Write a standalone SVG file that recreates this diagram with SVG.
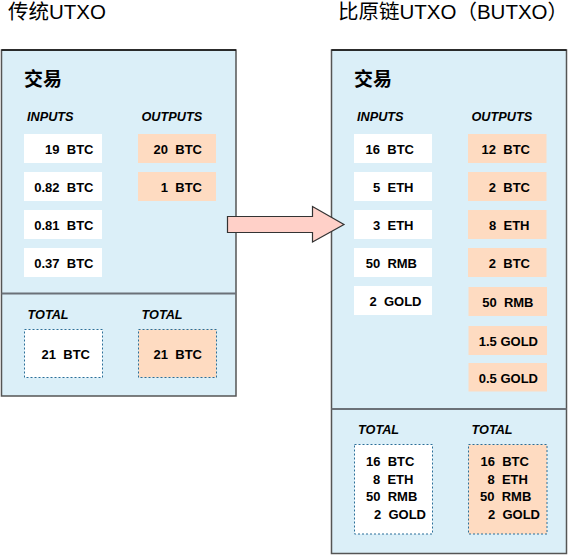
<svg xmlns="http://www.w3.org/2000/svg" width="581" height="555" viewBox="0 0 581 555">
<style>
.title{font-family:"Liberation Sans","Noto Sans CJK SC",sans-serif;font-size:20.5px;fill:#000}
.head{font-family:"Noto Sans CJK SC","Liberation Sans",sans-serif;font-size:19px;font-weight:bold;fill:#000}
.lab{font-family:"Liberation Sans",sans-serif;font-size:12.7px;font-weight:bold;font-style:italic;fill:#000}
.t{font-family:"Liberation Sans",sans-serif;font-size:13px;font-weight:bold;fill:#000;white-space:pre}
.panel{fill:#dbeff8;stroke:#555;stroke-width:1.5}
.topline{stroke:#111;stroke-width:1.5}
.div{stroke:#6b7178;stroke-width:2}
.in{fill:#ffffff}
.out{fill:#fedbc1}
.tot{stroke:#2a6f99;stroke-width:1;stroke-dasharray:2 2}
</style>
<text class="title" x="8" y="19">传统UTXO</text>
<text class="title" x="338" y="19">比原链UTXO（BUTXO）</text>

<g id="left-panel">
<rect class="panel" x="1.5" y="50" width="234.5" height="346"/>
<line class="topline" x1="1.5" y1="50" x2="236" y2="50"/>
<line class="div" x1="1.5" y1="293.5" x2="236" y2="293.5"/>
<text class="head" x="24" y="86">交易</text>
<text class="lab" x="27" y="121">INPUTS</text>
<text class="lab" x="141.5" y="121">OUTPUTS</text>
<text class="lab" x="27.5" y="319">TOTAL</text>
<text class="lab" x="141.5" y="319">TOTAL</text>
</g>
<g id="left-in-1"><rect class="in" x="24" y="134" width="78" height="29"/><text class="t" x="93.5" y="154" text-anchor="end" xml:space="preserve">19  BTC</text></g>
<g id="left-in-2"><rect class="in" x="24" y="172" width="78" height="29"/><text class="t" x="93.5" y="192" text-anchor="end" xml:space="preserve">0.82  BTC</text></g>
<g id="left-in-3"><rect class="in" x="24" y="210" width="78" height="29"/><text class="t" x="93.5" y="230" text-anchor="end" xml:space="preserve">0.81  BTC</text></g>
<g id="left-in-4"><rect class="in" x="24" y="248" width="78" height="29"/><text class="t" x="93.5" y="268" text-anchor="end" xml:space="preserve">0.37  BTC</text></g>
<g id="left-out-1"><rect class="out" x="138" y="134" width="78" height="29"/><text class="t" x="202" y="154" text-anchor="end" xml:space="preserve">20  BTC</text></g>
<g id="left-out-2"><rect class="out" x="138" y="172" width="78" height="29"/><text class="t" x="202" y="192" text-anchor="end" xml:space="preserve">1  BTC</text></g>
<g id="left-total-in"><rect class="in tot" x="24.5" y="329.5" width="78" height="48"/><text class="t" x="90" y="359" text-anchor="end" xml:space="preserve">21  BTC</text></g>
<g id="left-total-out"><rect class="out tot" x="138.5" y="329.5" width="78" height="48"/><text class="t" x="202" y="359" text-anchor="end" xml:space="preserve">21  BTC</text></g>

<g id="right-panel">
<rect class="panel" x="331.5" y="50" width="235" height="503.5"/>
<line class="topline" x1="331.5" y1="50" x2="566.5" y2="50"/>
<line class="div" x1="331.5" y1="409" x2="566.5" y2="409"/>
<text class="head" x="354" y="86">交易</text>
<text class="lab" x="357" y="121">INPUTS</text>
<text class="lab" x="471.5" y="121">OUTPUTS</text>
<text class="lab" x="358" y="433.5">TOTAL</text>
<text class="lab" x="471.5" y="433.5">TOTAL</text>
</g>
<g id="right-in-1"><rect class="in" x="354" y="134" width="78" height="29"/><text class="t" x="414" y="154" text-anchor="end" xml:space="preserve">16  BTC</text></g>
<g id="right-in-2"><rect class="in" x="354" y="172" width="78" height="29"/><text class="t" x="413.5" y="192" text-anchor="end" xml:space="preserve">5  ETH</text></g>
<g id="right-in-3"><rect class="in" x="354" y="210" width="78" height="29"/><text class="t" x="413.5" y="230" text-anchor="end" xml:space="preserve">3  ETH</text></g>
<g id="right-in-4"><rect class="in" x="354" y="248" width="78" height="29"/><text class="t" x="417" y="268" text-anchor="end" xml:space="preserve">50  RMB</text></g>
<g id="right-in-5"><rect class="in" x="354" y="286" width="78" height="29"/><text class="t" x="421.5" y="306" text-anchor="end" xml:space="preserve">2  GOLD</text></g>
<g id="right-out-1"><rect class="out" x="468" y="134" width="78.5" height="29"/><text class="t" x="530" y="154" text-anchor="end" xml:space="preserve">12  BTC</text></g>
<g id="right-out-2"><rect class="out" x="468" y="172" width="78.5" height="29"/><text class="t" x="530" y="192" text-anchor="end" xml:space="preserve">2  BTC</text></g>
<g id="right-out-3"><rect class="out" x="468" y="210" width="78.5" height="29"/><text class="t" x="529.5" y="230" text-anchor="end" xml:space="preserve">8  ETH</text></g>
<g id="right-out-4"><rect class="out" x="468" y="248" width="78.5" height="29"/><text class="t" x="530" y="268" text-anchor="end" xml:space="preserve">2  BTC</text></g>
<g id="right-out-5"><rect class="out" x="468.5" y="287" width="78.5" height="29"/><text class="t" x="533.5" y="307" text-anchor="end" xml:space="preserve">50  RMB</text></g>
<g id="right-out-6"><rect class="out" x="468.5" y="326" width="78.5" height="29"/><text class="t" x="538" y="346" text-anchor="end" xml:space="preserve">1.5 GOLD</text></g>
<g id="right-out-7"><rect class="out" x="468.5" y="363" width="78.5" height="28.5"/><text class="t" x="538" y="383" text-anchor="end" xml:space="preserve">0.5 GOLD</text></g>
<g id="right-total-in"><rect class="in tot" x="354.5" y="444.5" width="78" height="89.5"/>
<text class="t" x="366" y="466" xml:space="preserve">16  BTC</text>
<text class="t" x="373" y="483.5" xml:space="preserve">8  ETH</text>
<text class="t" x="366" y="501" xml:space="preserve">50  RMB</text>
<text class="t" x="374" y="518.5" xml:space="preserve">2  GOLD</text>
</g>
<g id="right-total-out"><rect class="out tot" x="468.5" y="444.5" width="78.5" height="89.5"/>
<text class="t" x="480.5" y="466" xml:space="preserve">16  BTC</text>
<text class="t" x="487.5" y="483.5" xml:space="preserve">8  ETH</text>
<text class="t" x="480" y="501" xml:space="preserve">50  RMB</text>
<text class="t" x="488" y="518.5" xml:space="preserve">2  GOLD</text>
</g>

<g id="connectors">
<path d="M227.5,216.5 L312.5,216.5 L312.5,206.5 L344,224.5 L312.5,242 L312.5,232.5 L227.5,232.5 Z" fill="#ffd0c8" stroke="#333" stroke-width="1.2" stroke-linejoin="miter"/>
</g>
</svg>
